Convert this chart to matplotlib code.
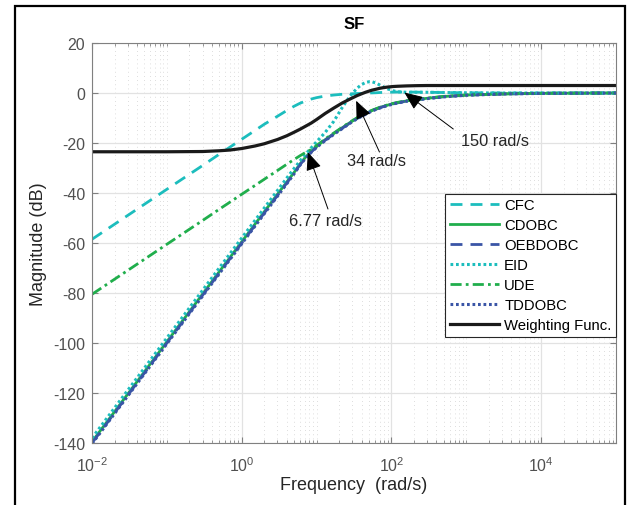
import matplotlib
matplotlib.use("Agg")
import matplotlib.pyplot as plt
from matplotlib.patches import Rectangle
from matplotlib.ticker import LogLocator, NullFormatter

plt.rcParams['font.family'] = ['Liberation Sans', 'DejaVu Sans']
plt.rcParams['mathtext.default'] = 'regular'
plt.rcParams['axes.unicode_minus'] = False

# frequency points (rad/s)
freq = [0.01, 0.1, 0.3, 0.5, 0.7, 1, 1.5, 2, 3, 4,
        5, 6, 7, 8.5, 10, 13, 17, 22, 28, 35,
        40, 45, 50, 55, 62, 70, 80, 90, 105, 120,
        160, 220, 300, 500, 1000, 3000, 1e4, 1e5]

# magnitude (dB) of each curve at those points
cfc = [-58.5, -38.5, -29.0, -24.5, -21.6, -18.5, -15.0, -12.5, -9.3, -7.0,
       -5.3, -4.1, -3.3, -2.4, -1.85, -1.2, -0.8, -0.5, -0.35, -0.2,
       -0.15, -0.1, 0.0, 0.05, 0.1, 0.2, 0.25, 0.3, 0.35, 0.4,
       0.4, 0.35, 0.3, 0.2, 0.1, 0.0, 0.0, 0.0]
cdobc = [-139.5, -99.5, -80.4, -71.5, -65.7, -59.5, -52.5, -47.5, -40.5, -35.6,
         -31.8, -28.4, -25.9, -23.3, -21.4, -18.7, -16.2, -13.9, -11.8, -10.0,
         -9.1, -8.3, -7.6, -7.0, -6.4, -5.8, -5.25, -4.8, -4.25, -3.85,
         -3.15, -2.6, -2.1, -1.4, -0.8, -0.35, -0.12, 0.0]
oebdobc = [-140.0, -100.0, -80.9, -72.0, -66.2, -60.0, -53.0, -48.0, -41.0, -36.0,
           -32.1, -28.7, -26.2, -23.55, -21.6, -18.9, -16.4, -14.1, -12.0, -10.15,
           -9.25, -8.45, -7.75, -7.1, -6.5, -5.9, -5.35, -4.9, -4.35, -3.95,
           -3.25, -2.7, -2.2, -1.5, -0.85, -0.4, -0.15, 0.0]
eid = [-138.0, -98.0, -78.9, -70.0, -64.2, -58.0, -51.0, -46.0, -39.0, -34.0,
       -30.2, -27.2, -24.7, -21.9, -19.5, -15.8, -11.3, -5.8, -1.2, 2.0,
       3.4, 4.2, 4.5, 4.5, 4.0, 3.2, 2.3, 1.6, 0.9, 0.5,
       0.3, 0.3, 0.3, 0.2, 0.1, 0.0, 0.0, 0.0]
ude = [-80.5, -60.5, -51.0, -46.5, -43.6, -40.5, -37.0, -34.5, -31.0, -28.5,
       -26.6, -25.1, -23.9, -22.6, -21.0, -18.4, -16.0, -13.7, -11.6, -9.85,
       -8.95, -8.15, -7.45, -6.9, -6.3, -5.7, -5.15, -4.7, -4.15, -3.75,
       -3.1, -2.55, -2.05, -1.35, -0.8, -0.35, -0.12, 0.0]
tddobc = [-140.3, -100.3, -81.2, -72.3, -66.5, -60.3, -53.3, -48.3, -41.3, -36.3,
          -32.35, -28.9, -26.4, -23.7, -21.75, -19.05, -16.55, -14.25, -12.1, -10.25,
          -9.35, -8.55, -7.85, -7.2, -6.6, -6.0, -5.45, -5.0, -4.4, -4.0,
          -3.3, -2.75, -2.25, -1.55, -0.9, -0.4, -0.15, 0.0]
weight = [-23.5, -23.5, -23.4, -23.1, -22.8, -22.2, -21.2, -20.3, -18.6, -17.1,
          -15.7, -14.5, -13.4, -12.0, -10.6, -8.2, -6.0, -4.0, -2.4, -1.0,
          -0.3, 0.3, 0.75, 1.15, 1.5, 1.9, 2.2, 2.4, 2.6, 2.7,
          2.85, 2.95, 3.0, 3.0, 3.0, 3.0, 3.0, 3.0]

labels = ['CFC', 'CDOBC', 'OEBDOBC', 'EID', 'UDE', 'TDDOBC', 'Weighting Func.']

# annotations: (text, arrow tip, arrow tail, text position)
notes = [('6.77 rad/s', (7.66, -23.7), (14.2, -46.4), (13.2, -50.8)),
         ('34 rad/s', (33.8, -3.1), (69.2, -23.6), (64.1, -26.8)),
         ('150 rad/s', (149, 0.2), (671, -14.4), (2400, -18.8))]

cyan = '#1CBDBD'
green = '#20AE4C'
blue = '#3A55A6'

fig = plt.figure(figsize=(6.29, 5.06), dpi=100)
ax = fig.add_axes([0.1463, 0.1225, 0.833, 0.7905])

ax.semilogx(freq, cfc, color=cyan, lw=2, ls=(0, (4.3, 2.9)), label=labels[0])
ax.semilogx(freq, cdobc, color=green, lw=2, ls='-', label=labels[1])
ax.semilogx(freq, oebdobc, color=blue, lw=2, ls=(0, (4.3, 2.9)), label=labels[2])
ax.semilogx(freq, eid, color=cyan, lw=2.2, ls=(0, (0.9, 0.9)), label=labels[3])
ax.semilogx(freq, ude, color=green, lw=2, ls=(0, (4, 1.5, 1, 1.5)), label=labels[4])
ax.semilogx(freq, tddobc, color=blue, lw=2.2, ls=(0, (0.9, 0.9)), label=labels[5])
ax.semilogx(freq, weight, color='#1a1a1a', lw=2.3, ls='-', label=labels[6])

ax.set_xlim(1e-2, 1e5)
ax.set_ylim(-140, 20)
ax.set_xticks([1e-2, 1e0, 1e2, 1e4])
ax.xaxis.set_minor_locator(LogLocator(base=10, subs=range(1, 10), numticks=100))
ax.xaxis.set_minor_formatter(NullFormatter())
ax.set_yticks(range(-140, 21, 20))

ax.grid(True, which='major', color='#e2e2e2', lw=0.9, ls='-')
ax.grid(True, which='minor', axis='x', color='#d2d2d2', lw=0.6, ls=(0, (1, 4)))
ax.set_axisbelow(True)

ax.tick_params(which='both', direction='in', top=True, right=True,
               colors='#808080', labelcolor='#505050', labelsize=11.5)
ax.tick_params(which='major', length=4)
ax.tick_params(which='minor', length=2.5)
ax.tick_params(axis='x', which='major', pad=9)
ax.tick_params(axis='y', which='major', pad=5)
for s in ax.spines.values():
    s.set_color('#808080')
    s.set_linewidth(0.8)

ax.set_title('SF', fontsize=12, fontweight='bold', pad=11)
ax.set_xlabel('Frequency  (rad/s)', fontsize=13, color='#262626', labelpad=1)
ax.set_ylabel('Magnitude (dB)', fontsize=13, color='#262626', labelpad=4)

for txt, tip, tail, pos in notes:
    ax.annotate('', xy=tip, xytext=tail,
                arrowprops=dict(arrowstyle='-|>,head_length=0.7,head_width=0.3',
                                color='black', lw=0.7, mutation_scale=16,
                                shrinkA=0, shrinkB=0))
    ax.text(pos[0], pos[1], txt, ha='center', va='center', fontsize=11.8, color='#262626')

leg = ax.legend(loc='upper right', bbox_to_anchor=(1.0, 0.6225), borderaxespad=0,
                fontsize=10.7, handlelength=3.3, handletextpad=0.35, labelspacing=0.4,
                borderpad=0.3, fancybox=False, framealpha=1, edgecolor='#262626')
leg.get_frame().set_linewidth(0.8)

fig.patches.append(Rectangle((15 / 629, -0.05), 610 / 629, 1 - 7 / 506 + 0.05,
                             transform=fig.transFigure, fill=False,
                             ec='black', lw=1.6))

fig.savefig('out.png', dpi=100)
